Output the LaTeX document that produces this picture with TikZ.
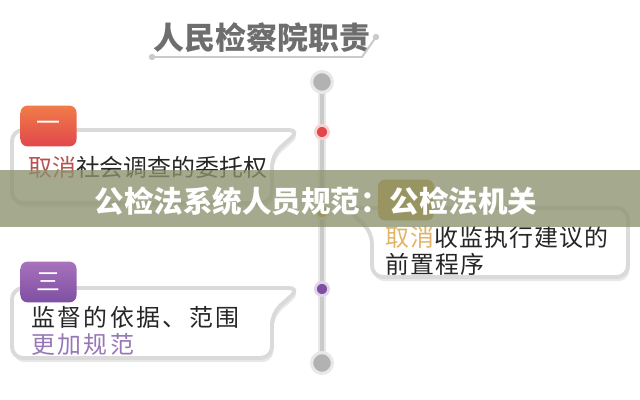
\documentclass[tikz,border=0pt]{standalone}
\usepackage{fontspec}
\setmainfont{Noto Sans CJK SC}
\usetikzlibrary{shadows}

\definecolor{titlegray}{HTML}{6E6E6E}
\definecolor{cardline}{HTML}{DADADA}
\definecolor{railgray}{HTML}{CACACA}
\definecolor{railedge}{HTML}{E8E8E8}
\definecolor{knobgray}{HTML}{B2B2B2}
\definecolor{redtop}{HTML}{F07C48}
\definecolor{redbot}{HTML}{E2474C}
\definecolor{redtext}{HTML}{B9524E}
\definecolor{goldtab}{HTML}{C9A040}
\definecolor{goldtext}{HTML}{E3B466}
\definecolor{purtop}{HTML}{A872BC}
\definecolor{purbot}{HTML}{7E4FA2}
\definecolor{purtext}{HTML}{9877B8}
\definecolor{bannerfill}{RGB}{140,146,110}

\tikzset{
  card/.style={draw=cardline, line width=2.8pt, fill=white, rounded corners=8pt,
    drop shadow={shadow xshift=1pt, shadow yshift=-3pt, opacity=0.18}},
  tabbox/.style={minimum width=1.4cm, minimum height=1.02cm, rounded corners=5pt,
    text=white, font=\fontsize{17}{17}\selectfont, inner sep=0pt},
  cardtext/.style={anchor=west, align=left, text=black!85,
    font=\fontsize{17}{19.2}\selectfont\addfontfeatures{LetterSpace=#1}, inner sep=0pt},
  cardtext/.default=0,
  knob/.style={circle, fill=knobgray, draw=railedge, line width=2.2pt,
    minimum size=0.52cm, inner sep=0pt},
  pin/.style={circle, fill=#1, draw=#1!25, line width=2pt,
    minimum size=0.33cm, inner sep=0pt}
}

\begin{document}
\begin{tikzpicture}[x=0.025cm, y=-0.025cm]
  \useasboundingbox (0,0) rectangle (640,400);

  % Title
  \node[text=titlegray, font=\fontsize{22}{22}\bfseries] (title) at (262,38) {人民检察院职责};
  \coordinate (ulA) at (152,57);
  \coordinate (ulB) at (362,57);
  \coordinate (ulC) at (376,37);
  \draw[railgray, line width=1.4pt] (ulA) -- (ulB) -- (ulC);
  \fill[railgray] (ulA) circle (3.2);
  \fill[railgray] (ulC) circle (3.2);

  % Rail
  \coordinate (railtop) at (322,82);
  \coordinate (railbot) at (322,363);
  \draw[railedge, line width=5pt] (railtop) -- (railbot);
  \draw[railgray, line width=2.6pt] (railtop) -- (railbot);
  \node[knob] (knobtop) at (railtop) {};
  \node[knob] (knobbot) at (railbot) {};
  \node[pin=redbot] (pinA) at (322,132) {};
  \node[pin=goldtab] (pinB) at (322,212) {};
  \node[pin=purbot] (pinC) at (322,289) {};

  % Cards
  \draw[card] (12,130) -- (300,130) -- (272,155) -- (272,203) -- (12,203) -- cycle;
  \draw[card] (346,208) -- (628,208) -- (628,277) -- (372,277) -- (372,232) -- cycle;
  \draw[card] (12,288) -- (300,288) -- (272,313) -- (272,358) -- (12,358) -- cycle;

  % Tabs
  \node[tabbox, top color=redtop, bottom color=redbot] (tabA) at (48.5,126) {一};
  \node[tabbox, fill=goldtab] (tabB) at (406,200) {};
  \node[tabbox, top color=purtop, bottom color=purbot] (tabC) at (48.5,282) {三};

  % Card texts
  \node[cardtext] (textA) at (28,167) {\textcolor{redtext}{取消}社会调查的委托权};
  \node[cardtext=5] (textB) at (385,251) {\textcolor{goldtext}{取消}收监执行建议的\\前置程序};
  \node[cardtext=10] (textC) at (31,331) {监督的依据、范围\\\textcolor{purtext}{更加规范}};

  % Banner
  \fill[bannerfill, opacity=0.78] (0,170) rectangle (640,227);
  \node[text=white, font=\fontsize{21}{21}\bfseries] (banner) at (316,201) {公检法系统人员规范：公检法机关};
\end{tikzpicture}
\end{document}
